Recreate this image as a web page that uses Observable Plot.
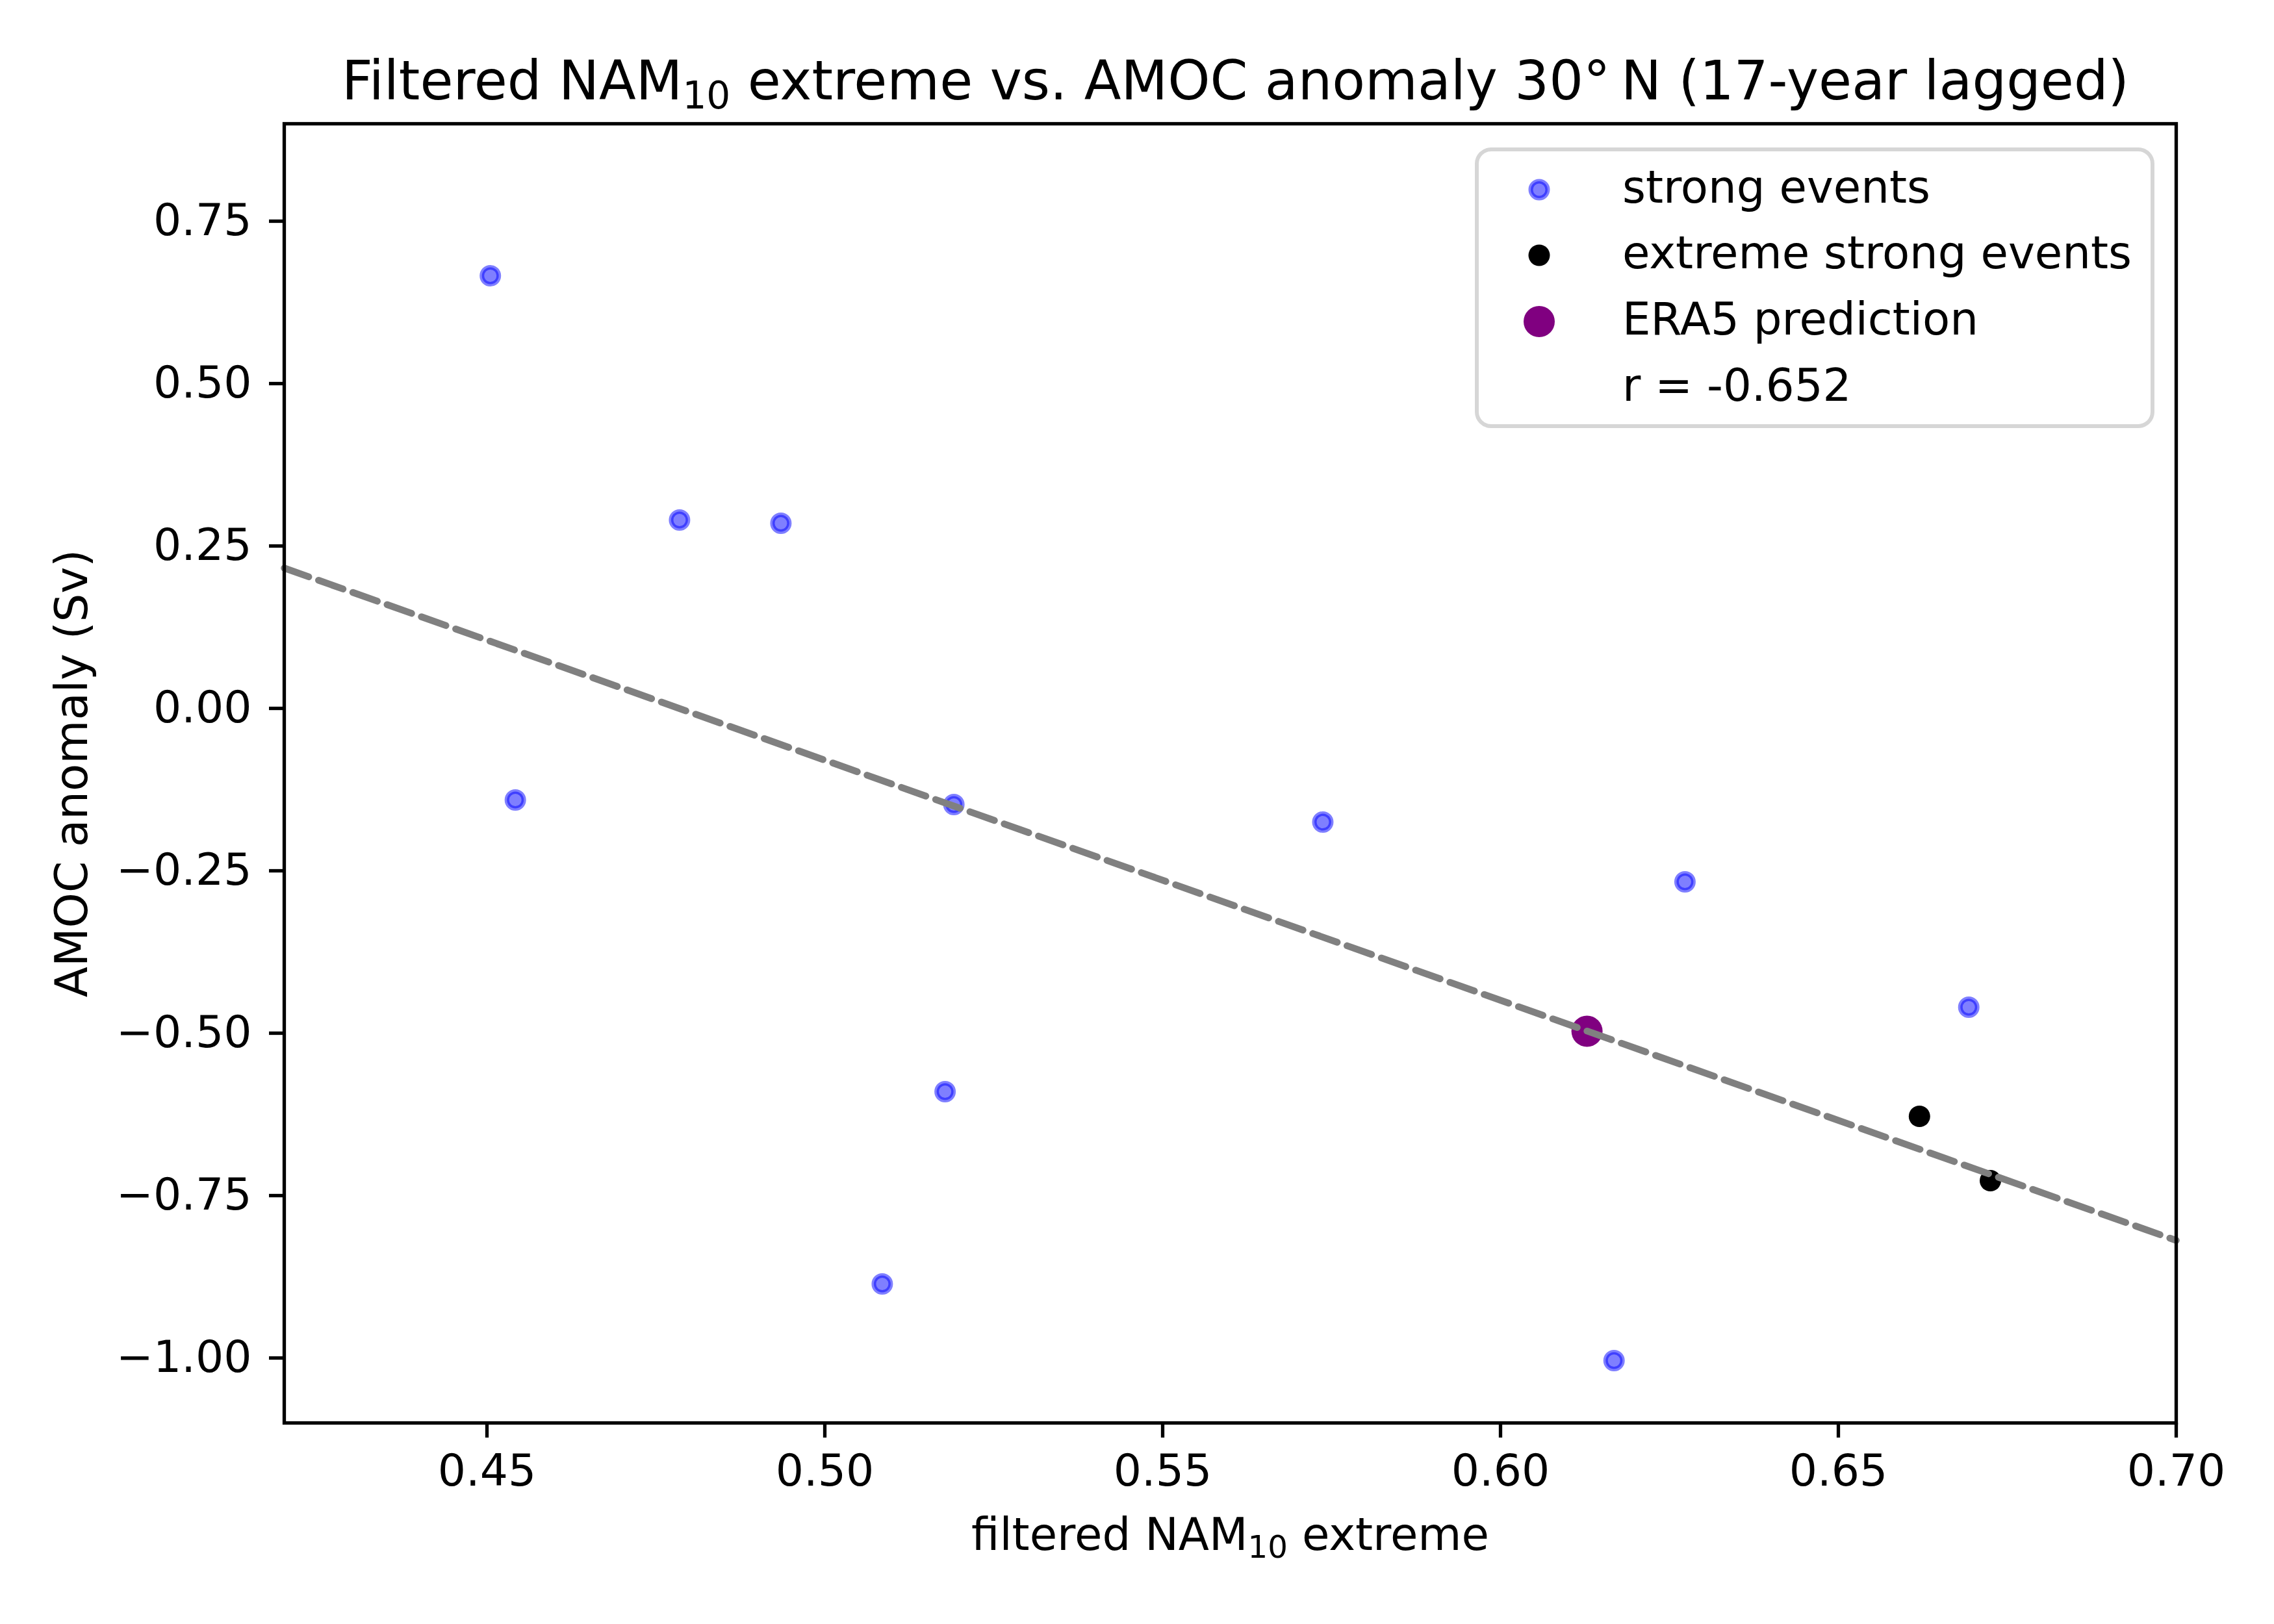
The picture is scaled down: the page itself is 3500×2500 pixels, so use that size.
<!DOCTYPE html>
<html>
<head>
<meta charset="utf-8">
<script src="https://cdn.jsdelivr.net/npm/d3@7"></script>
<script src="https://cdn.jsdelivr.net/npm/@observablehq/plot@0.6"></script>
<style>
  body { margin: 0; background: white; }
</style>
</head>
<body>
<div id="chart"></div>
<script>
// values
const strongX = [0.4505, 0.4785, 0.4935, 0.4542, 0.5191, 0.5737, 0.6273, 0.6693, 0.5178, 0.5085, 0.6168];
const strongY = [0.666, 0.290, 0.285, -0.141, -0.148, -0.175, -0.267, -0.460, -0.590, -0.886, -1.004];
const extremeX = [0.662, 0.6725];
const extremeY = [-0.628, -0.727];
const era5X = [0.6128];
const era5Y = [-0.497];
const fitX = [0.42, 0.70];
const fitY = [0.216, -0.819];
const xTicks = [0.45, 0.50, 0.55, 0.60, 0.65, 0.70];
const yTicks = [-1.00, -0.75, -0.50, -0.25, 0.00, 0.25, 0.50, 0.75];
const legendLabels = ['strong events', 'extreme strong events', 'ERA5 prediction', 'r = -0.652'];

const title = 'Filtered NAM_10 extreme vs. AMOC anomaly 30°\u2009N (17-year lagged)';
const xLabel = 'filtered NAM_10 extreme';
const yLabel = 'AMOC anomaly (Sv)';

const zip = (xs, ys) => xs.map((x, i) => ({x, y: ys[i]}));
const strong = zip(strongX, strongY);
const extreme = zip(extremeX, extremeY);
const era5 = zip(era5X, era5Y);
const fit = zip(fitX, fitY);

let chart = Plot.plot({
  width: 3500,
  height: 2500,
  marginLeft: 437,
  marginRight: 151,
  marginTop: 190,
  marginBottom: 310,
  style: {
    fontFamily: 'DejaVu Sans',
    fontSize: '68px',
    color: 'black',
    background: 'white',
  },
  x: {domain: [0.42, 0.70], label: null},
  y: {domain: [-1.1, 0.9], label: null},
  marks: [
    Plot.axisX({ticks: xTicks, tickFormat: d3.format('.2f'), tickSize: 23, tickPadding: 25, strokeWidth: 5.3, fontSize: 68, label: null}),
    Plot.axisY({ticks: yTicks, tickFormat: d3.format('.2f'), tickSize: 23, tickPadding: 27, strokeWidth: 5.3, fontSize: 68, label: null}),
    Plot.dot(strong, {x: 'x', y: 'y', r: 13, fill: 'blue', fillOpacity: 0.5, stroke: 'blue', strokeOpacity: 0.5, strokeWidth: 7}),
    Plot.dot(extreme, {x: 'x', y: 'y', r: 16.5, fill: 'black'}),
    Plot.dot(era5, {x: 'x', y: 'y', r: 24, fill: 'purple'}),
    Plot.line(fit, {x: 'x', y: 'y', stroke: 'gray', strokeWidth: 10.5, strokeDasharray: '40,16'}),
    Plot.frame({stroke: 'black', strokeWidth: 5.3}),
    Plot.text([title], {frameAnchor: 'top', dx: 8, dy: -38, lineAnchor: 'bottom', fontSize: 83, fill: 'black'}),
    Plot.text([xLabel], {frameAnchor: 'bottom', dy: 195, lineAnchor: 'bottom', fontSize: 69, fill: 'black'}),
    Plot.text([yLabel], {frameAnchor: 'left', dx: -304, rotate: -90, textAnchor: 'middle', lineAnchor: 'bottom', fontSize: 69, fill: 'black'}),
  ],
});

// turn "_10" into a real subscript
d3.select(chart).selectAll('text').each(function () {
  const t = this.textContent;
  if (!t.includes('_10')) return;
  const shift = t.startsWith('Filtered') ? 14 : 12;
  const [a, b] = t.split('_10');
  const sel = d3.select(this);
  sel.text(null);
  sel.append('tspan').text(a);
  sel.append('tspan').attr('font-size', '70%').attr('dy', shift).text('10');
  sel.append('tspan').attr('dy', -shift).text(b);
});

// legend box, upper right
const svg = d3.select(chart);
const lg = svg.append('g')
  .attr('font-family', 'DejaVu Sans')
  .attr('font-size', 69)
  .attr('text-anchor', 'start');
lg.append('rect')
  .attr('x', 2273).attr('y', 230).attr('width', 1040).attr('height', 426)
  .attr('rx', 22).attr('fill', 'white').attr('stroke', '#d6d6d6').attr('stroke-width', 6);
const rowY = [292, 393, 495, 597];
lg.append('circle').attr('cx', 2369).attr('cy', rowY[0]).attr('r', 13)
  .attr('fill', 'blue').attr('fill-opacity', 0.5)
  .attr('stroke', 'blue').attr('stroke-opacity', 0.5).attr('stroke-width', 7);
lg.append('circle').attr('cx', 2369).attr('cy', rowY[1]).attr('r', 16.5).attr('fill', 'black');
lg.append('circle').attr('cx', 2369).attr('cy', rowY[2]).attr('r', 24).attr('fill', 'purple');
legendLabels.forEach((s, i) => {
  lg.append('text').attr('x', 2497).attr('y', rowY[i] + 20).attr('fill', 'black').text(s);
});

d3.select('#chart').append(() => chart);
</script>
</body>
</html>
